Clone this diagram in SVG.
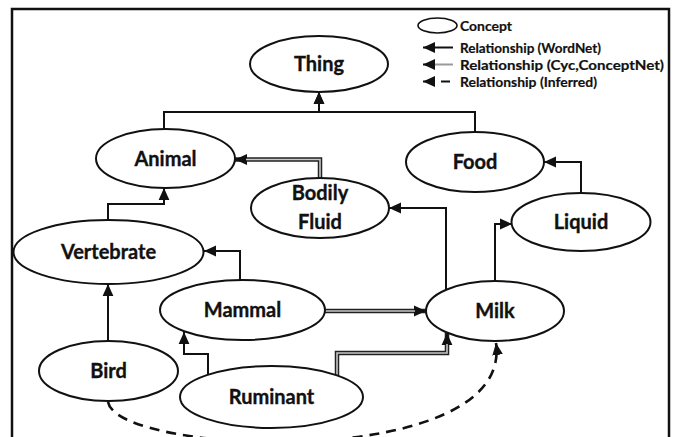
<svg xmlns="http://www.w3.org/2000/svg" width="675" height="437" viewBox="0 0 675 437">
  <style>
    .node ellipse { fill: #fff; stroke: #111; stroke-width: 2; }
    .node text, .legend text { font-family: Lato, "Open Sans", "Liberation Sans", sans-serif; font-weight: 700; fill: #111; stroke: #111; stroke-width: 0.35; text-anchor: middle; }
    .node text { font-size: 20px; }
    .legend text { font-size: 14px; text-anchor: start; stroke-width: 0.2; }
    .wn { fill: none; stroke: #111; stroke-width: 2; }
    .cyc-outer { fill: none; stroke: #222; stroke-width: 4.5; }
    .cyc-inner { fill: none; stroke: #c8c8c8; stroke-width: 1.6; }
    .inf { fill: none; stroke: #111; stroke-width: 2.6; stroke-dasharray: 10 7; }
  </style>
  <defs>
    <marker id="arrow" markerUnits="userSpaceOnUse" markerWidth="12" markerHeight="12" viewBox="0 0 10 10" refX="10" refY="5" orient="auto">
      <path d="M0,0.5 L10,5 L0,9.5 z" fill="#111"/>
    </marker>
  </defs>

  <rect width="675" height="437" fill="#fff"/>
  <!-- outer frame -->
  <rect x="12" y="9" width="657" height="440" fill="none" stroke="#111" stroke-width="2.5"/>

  <!-- legend -->
  <g class="legend" id="legend">
    <ellipse cx="437.5" cy="25.5" rx="19.5" ry="7.5" fill="#fff" stroke="#111" stroke-width="1.6"/>
    <text x="460" y="30.5" textLength="52" lengthAdjust="spacingAndGlyphs">Concept</text>
    <line x1="453" y1="47.5" x2="423" y2="47.5" class="wn" marker-end="url(#arrow)"/>
    <text x="460" y="52.5" textLength="141" lengthAdjust="spacingAndGlyphs">Relationship (WordNet)</text>
    <line x1="453" y1="64.5" x2="432" y2="64.5" stroke="#999" stroke-width="2"/>
    <line x1="433" y1="64.5" x2="423" y2="64.5" class="wn" marker-end="url(#arrow)"/>
    <text x="460" y="69.5" textLength="204" lengthAdjust="spacingAndGlyphs">Relationship (Cyc,ConceptNet)</text>
    <line x1="433" y1="81.5" x2="423" y2="81.5" class="wn" marker-end="url(#arrow)"/>
    <line x1="441" y1="81.5" x2="450" y2="81.5" stroke="#111" stroke-width="2"/>
    <text x="460" y="86.5" textLength="137" lengthAdjust="spacingAndGlyphs">Relationship (Inferred)</text>
  </g>

  <!-- connectors -->
  <g id="connectors">
    <path class="wn" d="M164,129 V112 H319 V92" marker-end="url(#arrow)"/>
    <path class="wn" d="M475,132 V112 H319 V92" marker-end="url(#arrow)"/>
    <path class="wn" d="M108,220 V204 H164 V188" marker-end="url(#arrow)"/>
    <path class="wn" d="M446,290 V208 H389" marker-end="url(#arrow)"/>
    <path class="wn" d="M495,281 V224 H512" marker-end="url(#arrow)"/>
    <path class="wn" d="M581,193 V162 H544" marker-end="url(#arrow)"/>
    <path class="wn" d="M240,280 V251 H204" marker-end="url(#arrow)"/>
    <path class="wn" d="M108,341 V284" marker-end="url(#arrow)"/>
    <path class="wn" d="M208,374 V354 H184 V332" marker-end="url(#arrow)"/>

    <!-- Cyc / ConceptNet links: double stroke -->
    <path class="cyc-outer" d="M320,178 V159.5 H235" marker-end="url(#arrow)"/>
    <path class="cyc-inner" d="M320,178 V159.5 H246"/>
    <path class="cyc-outer" d="M325,311 H426" marker-end="url(#arrow)"/>
    <path class="cyc-inner" d="M325,311 H415"/>
    <path class="cyc-outer" d="M337,376 V353 H447 V333" marker-end="url(#arrow)"/>
    <path class="cyc-inner" d="M337,376 V353 H447 V344"/>

    <!-- inferred link -->
    <path class="inf" d="M108,402 C118,456 514,472 496,343" marker-end="url(#arrow)"/>
  </g>

  <!-- concepts -->
  <g class="node" id="thing"><ellipse cx="319" cy="64" rx="69" ry="28"/><text x="319" y="71">Thing</text></g>
  <g class="node" id="animal"><ellipse cx="165.5" cy="158.5" rx="69.5" ry="29.5"/><text x="165.5" y="165.5">Animal</text></g>
  <g class="node" id="food"><ellipse cx="475" cy="162" rx="69" ry="30"/><text x="475" y="169">Food</text></g>
  <g class="node" id="bodily-fluid"><ellipse cx="320" cy="208" rx="69" ry="30"/><text x="320" y="200">Bodily</text><text x="320" y="229">Fluid</text></g>
  <g class="node" id="liquid"><ellipse cx="581" cy="222" rx="69.5" ry="29"/><text x="581" y="229">Liquid</text></g>
  <g class="node" id="vertebrate"><ellipse cx="108.5" cy="252" rx="95" ry="32"/><text x="108.5" y="259">Vertebrate</text></g>
  <g class="node" id="mammal"><ellipse cx="242.5" cy="310" rx="82.5" ry="30"/><text x="242.5" y="317">Mammal</text></g>
  <g class="node" id="milk"><ellipse cx="495" cy="311" rx="69" ry="30"/><text x="495" y="318">Milk</text></g>
  <g class="node" id="bird"><ellipse cx="108.5" cy="371" rx="69.5" ry="30"/><text x="108.5" y="378">Bird</text></g>
  <g class="node" id="ruminant"><ellipse cx="271.5" cy="397" rx="91.5" ry="31"/><text x="271.5" y="404">Ruminant</text></g>
</svg>
